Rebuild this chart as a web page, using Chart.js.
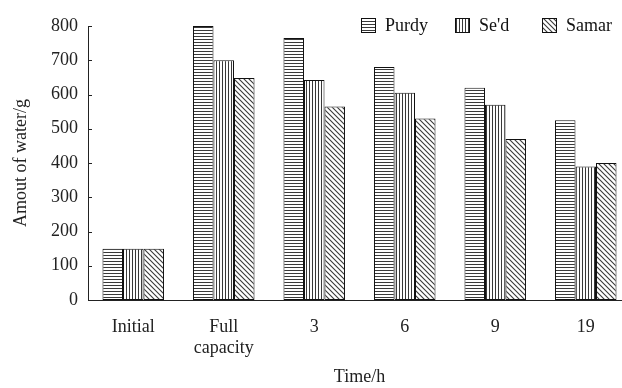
<!DOCTYPE html>
<html lang="en">
<head>
    <meta charset="UTF-8">
    <title>Amount of water</title>
    <script src="https://cdn.jsdelivr.net/npm/chart.js"></script>
    <style>
        html, body { margin: 0; padding: 0; background: #fff; overflow: hidden; }
        #wrap { position: relative; width: 632px; height: 388px; }
    </style>
</head>
<body>
    <div id="wrap"><canvas id="waterChart"></canvas></div>

    <script>
    // Data
    const categories = ['Initial', ['Full', 'capacity'], '3', '6', '9', '19'];
    const seriesNames = ['Purdy', "Se'd", 'Samar'];
    const purdy = [150, 800, 765, 680, 620, 525];
    const sed = [150, 700, 642, 605, 570, 390];
    const samar = [150, 648, 565, 530, 470, 400];
    const yTicks = [0, 100, 200, 300, 400, 500, 600, 700, 800];

    const FONT = '"Liberation Serif", "Times New Roman", serif';

    function makePattern(kind) {
        const c = document.createElement('canvas');
        const s = kind === 'diag' ? 5 : 3;
        c.width = s; c.height = s;
        const g = c.getContext('2d');
        g.fillStyle = '#ffffff';
        g.fillRect(0, 0, s, s);
        g.strokeStyle = '#3a3a3a';
        g.fillStyle = '#3a3a3a';
        if (kind === 'h') {
            g.fillRect(0, 0, s, 1);
        } else if (kind === 'v') {
            g.fillRect(0, 0, 1, s);
        } else {
            g.lineWidth = 1.1;
            g.beginPath();
            g.moveTo(-1, -1); g.lineTo(s + 1, s + 1);
            g.moveTo(-1, s - 1); g.lineTo(1, s + 1);
            g.moveTo(s - 1, -1); g.lineTo(s + 1, 1);
            g.stroke();
        }
        return g.createPattern(c, 'repeat');
    }

    const patterns = [makePattern('h'), makePattern('v'), makePattern('diag')];

    // legend in the top right corner + inward ticks on the y axis
    const extras = {
        id: 'extras',
        afterDraw(chart) {
            const ctx = chart.ctx;
            const y = chart.scales.y;
            ctx.save();
            ctx.strokeStyle = '#222';
            ctx.lineWidth = 1;
            yTicks.forEach(v => {
                const py = Math.round(y.getPixelForValue(v)) + 0.5;
                ctx.beginPath();
                ctx.moveTo(y.right, py);
                ctx.lineTo(y.right + 4, py);
                ctx.stroke();
            });

            const startX = [361, 455, 542];
            ctx.font = '18px ' + FONT;
            ctx.textBaseline = 'middle';
            chart.data.datasets.forEach((ds, i) => {
                const bx = startX[i];
                ctx.fillStyle = ds.backgroundColor;
                ctx.fillRect(bx, 18, 15, 15);
                ctx.strokeStyle = '#111';
                ctx.strokeRect(bx + 0.5, 18.5, 14, 14);
                ctx.fillStyle = '#111';
                ctx.fillText(ds.label, bx + 24, 26);
            });
            ctx.restore();
        }
    };

    new Chart(document.getElementById('waterChart'), {
        type: 'bar',
        data: {
            labels: categories,
            datasets: [
                { label: seriesNames[0], data: purdy, backgroundColor: patterns[0] },
                { label: seriesNames[1], data: sed, backgroundColor: patterns[1] },
                { label: seriesNames[2], data: samar, backgroundColor: patterns[2] }
            ].map(d => Object.assign(d, {
                borderColor: '#111',
                borderWidth: 1,
                borderSkipped: false,
                barPercentage: 1,
                categoryPercentage: 0.68
            }))
        },
        options: {
            responsive: true,
            maintainAspectRatio: false,
            animation: false,
            layout: { padding: { top: 26, right: 1, left: 0, bottom: 0 } },
            plugins: {
                legend: { display: false },
                tooltip: { enabled: false }
            },
            scales: {
                x: {
                    grid: { display: false, drawTicks: false },
                    border: { display: true, color: '#222', width: 1 },
                    ticks: {
                        color: '#222',
                        font: { family: FONT, size: 18 },
                        padding: 16,
                        maxRotation: 0,
                        autoSkip: false
                    },
                    title: {
                        display: true,
                        text: 'Time/h',
                        color: '#222',
                        font: { family: FONT, size: 18 },
                        padding: { top: 0, bottom: 0 }
                    },
                    afterFit(scale) { scale.height = 88; }
                },
                y: {
                    min: 0,
                    max: 800,
                    grid: { display: false, drawTicks: false },
                    border: { display: true, color: '#222', width: 1 },
                    ticks: {
                        stepSize: 100,
                        color: '#222',
                        font: { family: FONT, size: 18 },
                        padding: 10
                    },
                    title: {
                        display: true,
                        text: 'Amout of water/g',
                        color: '#222',
                        font: { family: FONT, size: 18 },
                        padding: { top: 10, bottom: 0 }
                    },
                    afterFit(scale) { scale.width = 88; }
                }
            }
        },
        plugins: [extras]
    });
    </script>
</body>
</html>
